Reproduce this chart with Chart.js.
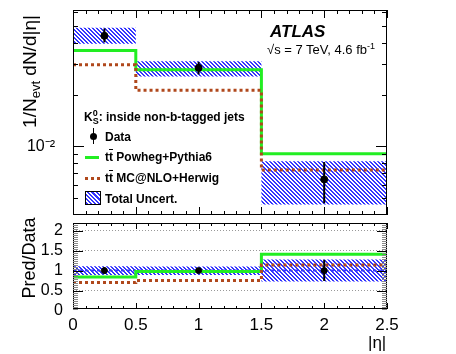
<!DOCTYPE html>
<html lang="en">
<head>
<meta charset="UTF-8">
<title>K0s |eta| in non-b-tagged jets</title>
<script src="https://cdn.jsdelivr.net/npm/chart.js"></script>
<style>
    body {
        margin: 0;
        background: #fff;
        font-family: 'Liberation Sans', Arial, sans-serif;
    }
    #wrap {
        position: relative;
        width: 456px;
        height: 354px;
        overflow: hidden;
    }
    canvas {
        position: absolute;
        left: 0;
    }
    .txt {
        position: absolute;
        white-space: nowrap;
        color: #000;
    }
    .leg {
        font-size: 12px;
        font-weight: bold;
        line-height: 12px;
        left: 105px;
    }
    sup, sub {
        line-height: 0;
    }
    .sym {
        position: absolute;
    }
</style>
</head>
<body>
<div id="wrap">
    <canvas id="topChart" width="456" height="220" style="top:0"></canvas>
    <canvas id="ratioChart" width="456" height="138" style="top:216px"></canvas>

    <div class="txt" style="left:270px; top:23px; font-size:17px; line-height:17px; font-weight:bold; font-style:italic;">ATLAS</div>
    <div class="txt" style="left:267px; top:43px; font-size:13px; line-height:13px;">√s = 7 TeV, 4.6 fb<sup style="font-size:9px">-1</sup></div>

    <div class="txt leg" style="left:84px; top:111px;">K<sup style="font-size:9px">0</sup><sub style="font-size:9px; margin-left:-5px">S</sub>: inside non-b-tagged jets</div>
    <div class="txt leg" style="top:131px;">Data</div>
    <div class="txt leg" style="top:151px;">t<span style="text-decoration:overline">t</span> Powheg+Pythia6</div>
    <div class="txt leg" style="top:172px;">t<span style="text-decoration:overline">t</span> MC@NLO+Herwig</div>
    <div class="txt leg" style="top:193px;">Total Uncert.</div>

    <div class="sym" style="left:90px; top:133px; width:7px; height:7px; border-radius:50%; background:#000;"></div>
    <div class="sym" style="left:93px; top:128px; width:1px; height:16px; background:#000;"></div>
    <div class="sym" style="left:85px; top:156px; width:14px; height:3px; background:#22ee22;"></div>
    <div class="sym" style="left:85px; top:177px; width:15px; height:3px; background:repeating-linear-gradient(90deg, #b0481c 0 3px, transparent 3px 6px);"></div>
    <div class="sym" style="left:85px; top:191px; width:14px; height:12px; border:1px solid #000; background:repeating-linear-gradient(45deg, #3535ff 0 1.5px, #fff 1.5px 3px);"></div>

    <div class="txt" style="left:-71px; top:62px; width:200px; text-align:center; font-size:19px; line-height:19px; transform:rotate(-90deg);">1/N<sub style="font-size:13px">evt</sub> dN/d|η|</div>
    <div class="txt" style="left:-71px; top:249px; width:200px; text-align:center; font-size:18px; line-height:18px; transform:rotate(-90deg);">Pred/Data</div>
    <div class="txt" style="left:368px; top:334px; font-size:17px; line-height:17px;">|η|</div>
</div>

<script>
    // bins in |eta|
    const binEdges = [0, 0.5, 1.5, 2.5];
    const binCenters = [0.25, 1.0, 2.0];

    // top panel: 1/N dN/d|eta|
    const dataVals = [0.0439, 0.0286, 0.00644];
    const dataLow = [0.0402, 0.0262, 0.00468];
    const dataHigh = [0.0484, 0.0310, 0.00812];
    const uncLow = [0.0395, 0.0255, 0.00461];
    const uncHigh = [0.0489, 0.0312, 0.00822];
    const powhegVals = [0.0361, 0.0279, 0.00907];
    const mcnloVals = [0.0298, 0.0212, 0.0073];

    // bottom panel: Pred/Data
    const ratioData = [1, 1, 1];
    const ratioDataLow = [0.92, 0.94, 0.74];
    const ratioDataHigh = [1.08, 1.06, 1.27];
    const ratioUncLow = [0.89, 0.89, 0.73];
    const ratioUncHigh = [1.11, 1.10, 1.28];
    const ratioPowheg = [0.84, 0.98, 1.41];
    const ratioMcnlo = [0.70, 0.75, 1.14];

    // tick labels
    const etaTickValues = [0, 0.5, 1, 1.5, 2, 2.5];
    const etaTickLabels = ['0', '0.5', '1', '1.5', '2', '2.5'];
    const ratioTickValues = [0, 0.5, 1, 1.5, 2];
    const ratioTickLabels = ['0', '0.5', '1', '1.5', '2'];
    const logTickValues = [0.01];
    const logTickLabels = ['10⁻²'];

    const GREEN = '#22ee22';
    const BROWN = '#b0481c';
    const BLUE = '#3535ff';

    Chart.defaults.font.family = "'Liberation Sans', Arial, sans-serif";
    Chart.defaults.color = '#000';

    function lookup(values, labels) {
        return v => {
            const i = values.findIndex(t => Math.abs(t - v) < 1e-9);
            return i >= 0 ? labels[i] : '';
        };
    }

    // histogram step line from per-bin values
    function steps(vals) {
        return binEdges.map((x, i) => ({x: x, y: vals[Math.min(i, vals.length - 1)]}));
    }

    function hatch() {
        const c = document.createElement('canvas');
        c.width = 4;
        c.height = 4;
        const g = c.getContext('2d');
        g.fillStyle = BLUE;
        for (let i = 0; i < 4; i++) {
            g.fillRect(i, i, 1, 1);
            g.fillRect((i + 1) % 4, i, 1, 1);
        }
        return g.createPattern(c, 'repeat');
    }

    function errorBars(lo, hi) {
        return binCenters.map((c, i) => ({
            data: [{x: c, y: lo[i]}, {x: c, y: hi[i]}],
            borderColor: '#000',
            borderWidth: 2,
            pointRadius: 0,
            order: 2
        }));
    }

    function bandSets(lo, hi) {
        return [
            {data: steps(hi), stepped: true, borderColor: 'rgba(0,0,0,0)', pointRadius: 0, fill: false, order: 9},
            {data: steps(lo), stepped: true, borderColor: 'rgba(0,0,0,0)', pointRadius: 0, fill: '-1',
                backgroundColor: hatch(), order: 9}
        ];
    }

    // fixed y axis width, no label overhang padding
    function fixY(s) {
        s.width = 73;
        s.paddingTop = 0;
        s.paddingBottom = 0;
    }

    // ROOT-like frame with inward ticks on all sides
    const frameTicks = {
        id: 'frameTicks',
        afterDatasetsDraw(chart, args, opts) {
            const {ctx, chartArea: a, scales} = chart;
            const x = scales.x, y = scales.y;
            ctx.save();
            ctx.lineWidth = 1;
            ctx.strokeStyle = '#000';
            ctx.strokeRect(Math.round(a.left) + 0.5, Math.round(a.top) + 0.5,
                Math.round(a.width) - 1, Math.round(a.height) - 1);
            opts.x.forEach(([v, len]) => {
                const px = Math.round(x.getPixelForValue(v)) + 0.5;
                ctx.beginPath();
                ctx.moveTo(px, a.bottom);
                ctx.lineTo(px, a.bottom - len);
                ctx.moveTo(px, a.top);
                ctx.lineTo(px, a.top + len);
                ctx.stroke();
            });
            opts.y.forEach(([v, len, col]) => {
                const py = Math.round(y.getPixelForValue(v)) + 0.5;
                ctx.strokeStyle = col || '#000';
                ctx.beginPath();
                ctx.moveTo(a.left, py);
                ctx.lineTo(a.left + len, py);
                ctx.moveTo(a.right, py);
                ctx.lineTo(a.right - len, py);
                ctx.stroke();
            });
            ctx.restore();
        }
    };

    const xTicksTop = [];
    for (let i = 0; i <= 25; i++) xTicksTop.push([i / 10, i % 5 === 0 ? 8 : 4]);
    const yTicksTop = [];
    [5, 6, 7, 8, 9].forEach(m => yTicksTop.push([m / 1000, 5]));
    yTicksTop.push([0.01, 11]);
    [2, 3, 4, 5, 6].forEach(m => yTicksTop.push([m / 100, 5]));

    const xTicksRatio = [];
    for (let i = 0; i <= 25; i++) xTicksRatio.push([i / 10, i % 5 === 0 ? 6 : 3]);
    const yTicksRatio = [];
    for (let i = 1; i <= 43; i++) yTicksRatio.push([i * 0.05, i % 10 === 0 ? 10 : 5, i % 10 === 0 ? '#000' : '#888']);

    const common = {
        responsive: false,
        animation: false,
        events: [],
        plugins: {
            legend: {display: false},
            tooltip: {enabled: false},
            filler: {drawTime: 'beforeDatasetsDraw'}
        }
    };

    new Chart(document.getElementById('topChart'), {
        type: 'line',
        data: {
            datasets: [
                ...bandSets(uncLow, uncHigh),
                {data: steps(powhegVals), stepped: true, borderColor: GREEN, borderWidth: 3, pointRadius: 0, fill: false, order: 5},
                {data: steps(mcnloVals), stepped: true, borderColor: BROWN, borderWidth: 3, borderDash: [3, 3], pointRadius: 0, fill: false, order: 4},
                ...errorBars(dataLow, dataHigh),
                {data: binCenters.map((c, i) => ({x: c, y: dataVals[i]})), showLine: false, pointRadius: 3.5,
                    pointBackgroundColor: '#000', pointBorderColor: '#000', order: 1}
            ]
        },
        options: {
            ...common,
            layout: {padding: {left: 0, right: 69, top: 10, bottom: 4}},
            scales: {
                x: {type: 'linear', min: 0, max: 2.5, display: false},
                y: {
                    type: 'logarithmic', min: 0.004, max: 0.062,
                    grid: {display: false}, border: {display: false},
                    ticks: {callback: lookup(logTickValues, logTickLabels), autoSkip: false, padding: 10, font: {size: 16}},
                    afterFit: fixY
                }
            },
            plugins: {...common.plugins, frameTicks: {x: xTicksTop, y: yTicksTop}}
        },
        plugins: [frameTicks]
    });

    new Chart(document.getElementById('ratioChart'), {
        type: 'line',
        data: {
            datasets: [
                ...bandSets(ratioUncLow, ratioUncHigh),
                {data: steps(ratioData), stepped: true, borderColor: BLUE, borderWidth: 2, borderDash: [3, 3], pointRadius: 0, fill: false, order: 6},
                {data: steps(ratioPowheg), stepped: true, borderColor: GREEN, borderWidth: 3, pointRadius: 0, fill: false, order: 5},
                {data: steps(ratioMcnlo), stepped: true, borderColor: BROWN, borderWidth: 3, borderDash: [3, 3], pointRadius: 0, fill: false, order: 4},
                ...errorBars(ratioDataLow, ratioDataHigh),
                {data: binCenters.map((c, i) => ({x: c, y: ratioData[i]})), showLine: false, pointRadius: 3,
                    pointBackgroundColor: '#000', pointBorderColor: '#000', order: 1}
            ]
        },
        options: {
            ...common,
            layout: {padding: {left: 0, right: 69, top: 7, bottom: 0}},
            scales: {
                x: {
                    type: 'linear', min: 0, max: 2.5,
                    grid: {display: false}, border: {display: false},
                    ticks: {stepSize: 0.5, callback: lookup(etaTickValues, etaTickLabels), autoSkip: false,
                        maxRotation: 0, padding: -2, font: {size: 17}},
                    afterFit: s => { s.height = 45; }
                },
                y: {
                    type: 'linear', min: 0.04, max: 2.19,
                    grid: {
                        drawTicks: false,
                        color: c => (c.tick && [0.5, 1, 1.5, 2].some(t => Math.abs(t - c.tick.value) < 1e-9)) ? '#999' : 'rgba(0,0,0,0)'
                    },
                    border: {display: false, dash: [1, 2]},
                    afterBuildTicks: s => { s.ticks = ratioTickValues.map(v => ({value: v})); },
                    ticks: {callback: lookup(ratioTickValues, ratioTickLabels), autoSkip: false, padding: 10, font: {size: 16}},
                    afterFit: fixY
                }
            },
            plugins: {...common.plugins, frameTicks: {x: xTicksRatio, y: yTicksRatio}}
        },
        plugins: [frameTicks]
    });
</script>
</body>
</html>
